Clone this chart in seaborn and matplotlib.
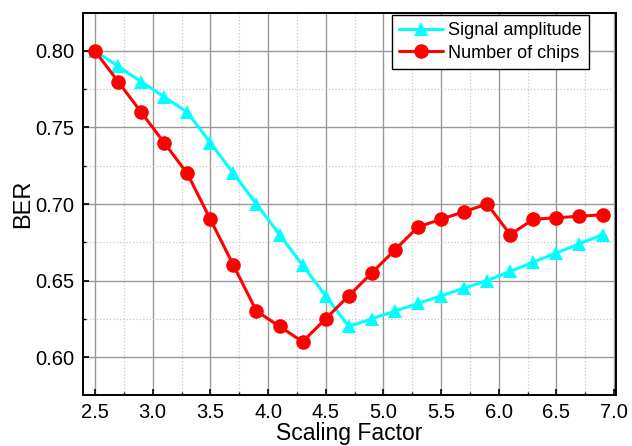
import numpy as np
import pandas as pd
import matplotlib
matplotlib.use("Agg")
import matplotlib.pyplot as plt
import seaborn as sns
from matplotlib.ticker import MultipleLocator

x_vals = [2.5, 2.7, 2.9, 3.1, 3.3, 3.5, 3.7, 3.9, 4.1, 4.3, 4.5, 4.7, 4.9, 5.1, 5.3, 5.5, 5.7, 5.9, 6.1, 6.3, 6.5, 6.7, 6.9]
signal_amplitude = [0.80, 0.79, 0.78, 0.77, 0.76, 0.74, 0.72, 0.70, 0.68, 0.66, 0.64, 0.62, 0.625, 0.63, 0.635, 0.64, 0.645, 0.65, 0.656, 0.662, 0.668, 0.674, 0.68]
number_of_chips = [0.80, 0.78, 0.76, 0.74, 0.72, 0.69, 0.66, 0.63, 0.62, 0.61, 0.625, 0.64, 0.655, 0.67, 0.685, 0.69, 0.695, 0.70, 0.68, 0.69, 0.691, 0.692, 0.693]
series_names = ["Signal amplitude", "Number of chips"]
x_ticks = [2.5, 3.0, 3.5, 4.0, 4.5, 5.0, 5.5, 6.0, 6.5, 7.0]
y_ticks = [0.60, 0.65, 0.70, 0.75, 0.80]

sns.set_style("white")
plt.rcParams['font.family'] = ['Liberation Sans', 'DejaVu Sans']
plt.rcParams['text.color'] = 'black'
plt.rcParams['axes.labelcolor'] = 'black'
plt.rcParams['xtick.color'] = 'black'
plt.rcParams['ytick.color'] = 'black'

df = pd.DataFrame({
    "x": x_vals * 2,
    "BER": signal_amplitude + number_of_chips,
    "series": [series_names[0]] * len(x_vals) + [series_names[1]] * len(x_vals),
})

fig = plt.figure(figsize=(6.32, 4.46), dpi=100)
ax = fig.add_axes([83/632, 1 - 395/446, (616-83)/632, (395-13)/446])

sns.lineplot(data=df, x="x", y="BER", hue="series", style="series",
             palette={series_names[0]: "#00FFFF", series_names[1]: "#FF0000"},
             markers={series_names[0]: "^", series_names[1]: "o"},
             dashes=False, markersize=10.5, linewidth=2.2, markeredgewidth=0,
             ax=ax, legend=True)

ax.set_xlim(2.396, 7.017)
ax.set_ylim(0.5752, 0.8248)
ax.xaxis.set_minor_locator(MultipleLocator(0.25))
ax.yaxis.set_minor_locator(MultipleLocator(0.025))
ax.set_xticks(x_ticks)
ax.set_xticklabels([f"{v:.1f}" for v in x_ticks])
ax.set_yticks(y_ticks)
ax.set_yticklabels([f"{v:.2f}" for v in y_ticks])

ax.grid(which="major", color="#999999", linestyle="-", linewidth=1.0)
ax.grid(which="minor", color="#c8c8c8", linestyle=":", linewidth=0.9)
ax.set_axisbelow(True)

ax.tick_params(axis="both", which="major", labelsize=14.5, direction="in", length=4, width=1.2,
               bottom=True, left=True, pad=6)
ax.tick_params(axis="x", which="major", pad=6)
ax.tick_params(axis="both", which="minor", direction="in", length=2.5, width=1.0,
               bottom=True, left=True)
for s in ax.spines.values():
    s.set_color("black")
    s.set_linewidth(1.4)

ax.set_xlabel("Scaling Factor", fontsize=16.5, labelpad=0)
ax.set_ylabel("BER", fontsize=17, labelpad=1)

leg = ax.legend(loc="upper right", bbox_to_anchor=(589/632, 1 - 15/446),
                bbox_transform=fig.transFigure, fontsize=13, frameon=True, fancybox=False,
                edgecolor="black", borderpad=0.4, labelspacing=0.3, handlelength=2.4,
                handletextpad=0.3, borderaxespad=0.0, framealpha=1)
leg.get_frame().set_linewidth(1.0)

fig.savefig("out.png", dpi=100)
